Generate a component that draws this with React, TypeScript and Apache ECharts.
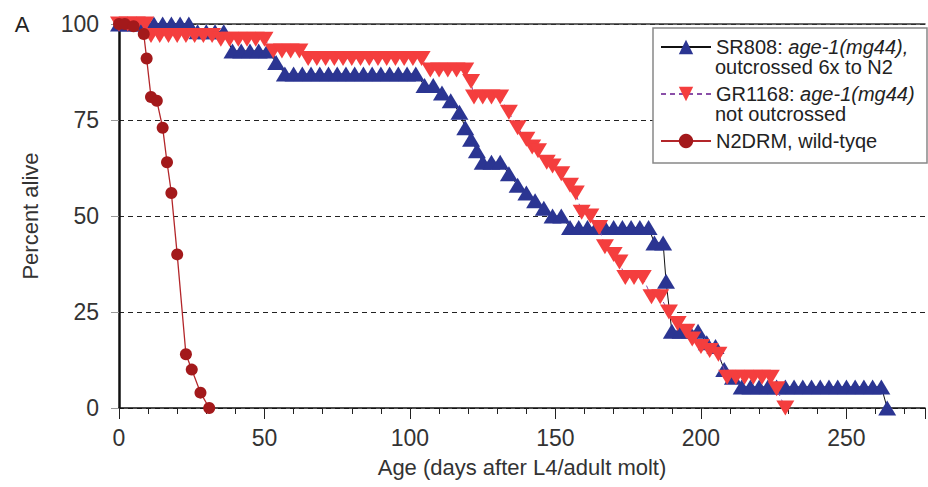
import React, { useEffect, useRef } from "react";
import * as echarts from "echarts";

// [day, percent alive]
const sr808: [number, number][] = [
  [0, 100], [3, 100], [6, 100], [9, 100], [12, 100], [15, 100], [18, 100], [21, 100], [24, 100],
  [27, 98], [30, 98], [33, 98], [36, 98],
  [39, 93], [42, 93], [45, 93], [48, 93], [51, 93], [54, 90],
  [57, 87], [60, 87], [63, 87], [66, 87], [69, 87], [72, 87], [75, 87], [78, 87], [81, 87], [84, 87],
  [87, 87], [90, 87], [93, 87], [96, 87], [99, 87], [102, 87],
  [105, 84], [108, 84], [111, 82], [114, 80], [117, 77], [119, 73], [121, 70], [123, 67],
  [125, 64], [128, 64], [131, 64], [134, 61], [137, 58], [140, 56], [143, 54], [146, 52],
  [149, 50], [152, 50], [155, 47], [158, 47], [161, 47], [164, 47], [167, 47], [170, 47],
  [173, 47], [176, 47], [179, 47], [182, 47], [184, 43], [187, 43], [188, 33], [190, 20],
  [193, 20], [196, 20], [199, 20], [202, 17], [205, 16], [208, 10], [211, 8], [214, 5.5],
  [217, 5.5], [220, 5.5], [223, 5.5], [226, 5.5], [229, 5.5], [232, 5.5], [235, 5.5], [238, 5.5],
  [241, 5.5], [244, 5.5], [247, 5.5], [250, 5.5], [253, 5.5], [256, 5.5], [259, 5.5], [262, 5.5],
  [264, 0],
];

const gr1168: [number, number][] = [
  [0, 100], [3, 100], [6, 100], [9, 100],
  [11, 97], [14, 97], [17, 97], [20, 97], [23, 97], [26, 97], [29, 97], [32, 97],
  [35, 96], [38, 96], [41, 96], [44, 96], [47, 96], [50, 96],
  [53, 93], [56, 93], [59, 93], [62, 93],
  [65, 91], [68, 91], [71, 91], [74, 91], [77, 91], [80, 91], [83, 91], [86, 91], [89, 91],
  [92, 91], [95, 91], [98, 91], [101, 91], [104, 91],
  [107, 88], [110, 88], [113, 88], [116, 88], [119, 88], [121, 85], [122, 81], [125, 81],
  [128, 81], [131, 81], [134, 77], [137, 73], [140, 70], [142, 68], [144, 67], [147, 64],
  [149, 63], [152, 61], [155, 58], [157, 56], [159, 51], [162, 50], [165, 47], [167, 42],
  [170, 40], [172, 38], [174, 34], [177, 34], [180, 34], [183, 29], [186, 29], [189, 25],
  [192, 22], [195, 20], [197, 18], [200, 16], [203, 15], [206, 14], [209, 8], [212, 8],
  [215, 8], [218, 8], [221, 8], [224, 8], [226, 5], [229, 0],
];

const n2drm: [number, number][] = [
  [0, 100], [2, 100], [5, 99.4], [8.5, 97.4], [9.5, 91], [11, 81], [13, 80], [15, 73],
  [16.5, 64], [18, 56], [20, 40], [23, 14], [25, 10], [28, 4], [31, 0],
];

const seriesNames = ["SR808", "GR1168", "N2DRM"];
const legendFirstLines: Record<string, string> = {
  SR808: "{n|SR808: }{i|age-1(mg44),}",
  GR1168: "{n|GR1168: }{i|age-1(mg44)}",
  N2DRM: "{n|N2DRM, wild-tyqe}",
};
const legendSecondLines = ["outcrossed 6x to N2", "not outcrossed"];
const xTitle = "Age (days after L4/adult molt)";
const yTitle = "Percent alive";

const FONT = "'Liberation Sans', Arial, Helvetica, sans-serif";

export default function App() {
  const ref = useRef<HTMLDivElement>(null);
  useEffect(() => {
    const chart = echarts.init(ref.current!, null, { renderer: "svg" });
    chart.setOption({
      animation: false,
      backgroundColor: "#fff",
      textStyle: { fontFamily: FONT },
      grid: { left: 119, right: 0, top: 24, bottom: 79 },
      xAxis: [
        {
          type: "value", min: 0, max: 277, interval: 10, position: "bottom",
          axisLine: { show: true, lineStyle: { color: "#111", width: 1.5 } },
          axisTick: { show: true, length: 6, lineStyle: { color: "#222", width: 1 } },
          axisLabel: {
            show: true, margin: 18, fontSize: 23, color: "#333", fontFamily: FONT,
            formatter: (v: number) => (v % 50 === 0 ? String(v) : ""),
          },
          splitLine: { show: false },
          name: xTitle, nameLocation: "middle", nameGap: 48,
          nameTextStyle: { fontSize: 22, color: "#333", fontFamily: FONT },
        },
        {
          type: "value", min: 0, max: 277, interval: 50, position: "bottom",
          axisLine: { show: false },
          axisTick: { show: true, length: 11, lineStyle: { color: "#222", width: 1 } },
          axisLabel: { show: false },
          splitLine: { show: false },
        },
        {
          type: "value", min: 0, max: 277, position: "top",
          axisLine: { show: true, lineStyle: { color: "#333", width: 1.5 } },
          axisTick: { show: false },
          axisLabel: { show: false },
          splitLine: { show: false },
        },
      ],
      yAxis: {
        type: "value", min: 0, max: 100, interval: 25,
        axisLine: { show: true, lineStyle: { color: "#111", width: 2.5 } },
        axisTick: { show: true, length: 8, lineStyle: { color: "#999", width: 1 } },
        axisLabel: { margin: 20, fontSize: 23, color: "#333", fontFamily: FONT },
        splitLine: { show: true, lineStyle: { color: "#222", type: [5, 4], width: 1 } },
        name: yTitle, nameLocation: "middle", nameGap: 78, nameRotate: 90,
        nameTextStyle: { fontSize: 22, color: "#333", fontFamily: FONT },
      },
      legend: {
        orient: "vertical", left: 660, top: 37, itemWidth: 50, itemHeight: 18, itemGap: 27,
        padding: 0, z: 10,
        data: seriesNames,
        formatter: (n: string) => legendFirstLines[n],
        textStyle: {
          fontSize: 20, lineHeight: 20, color: "#222", fontFamily: FONT,
          rich: {
            n: { fontSize: 20, lineHeight: 20, color: "#222", fontFamily: FONT },
            i: { fontSize: 20, lineHeight: 20, color: "#222", fontStyle: "italic", fontFamily: FONT },
          },
        },
      },
      graphic: [
        {
          type: "rect", z: 8, shape: { x: 653, y: 28, width: 274, height: 135 },
          style: { fill: "#fff", stroke: "#888", lineWidth: 1.5 },
        },
        {
          type: "text", z: 11, x: 715, y: 67,
          style: { text: legendSecondLines[0], fontSize: 20, fill: "#222", fontFamily: FONT, verticalAlign: "middle" },
        },
        {
          type: "text", z: 11, x: 715, y: 114,
          style: { text: legendSecondLines[1], fontSize: 20, fill: "#222", fontFamily: FONT, verticalAlign: "middle" },
        },
        {
          type: "text", z: 11, x: 22, y: 24,
          style: { text: "A", fontSize: 22, fill: "#222", fontFamily: FONT, align: "center", verticalAlign: "middle" },
        },
      ],
      series: [
        {
          name: "SR808", type: "line", data: sr808, clip: false,
          symbol: "triangle", symbolSize: [18, 15],
          itemStyle: { color: "#2b3592" },
          lineStyle: { color: "#111", width: 1 },
          z: 2,
        },
        {
          name: "GR1168", type: "line", data: gr1168, clip: false,
          symbol: "triangle", symbolRotate: 180, symbolSize: [18, 15],
          itemStyle: { color: "#f43e3e" },
          lineStyle: { color: "#8a4fa8", width: 1, type: [5, 4] },
          z: 3,
        },
        {
          name: "N2DRM", type: "line", data: n2drm, clip: false,
          symbol: "circle", symbolSize: 12,
          itemStyle: { color: "#a3191b" },
          lineStyle: { color: "#b3262a", width: 1.3 },
          z: 4,
        },
      ],
    });
    return () => chart.dispose();
  }, []);
  return (
    <div
      ref={ref}
      style={{ position: "fixed", left: 0, top: 0, width: 928, height: 487, background: "#fff" }}
    />
  );
}
